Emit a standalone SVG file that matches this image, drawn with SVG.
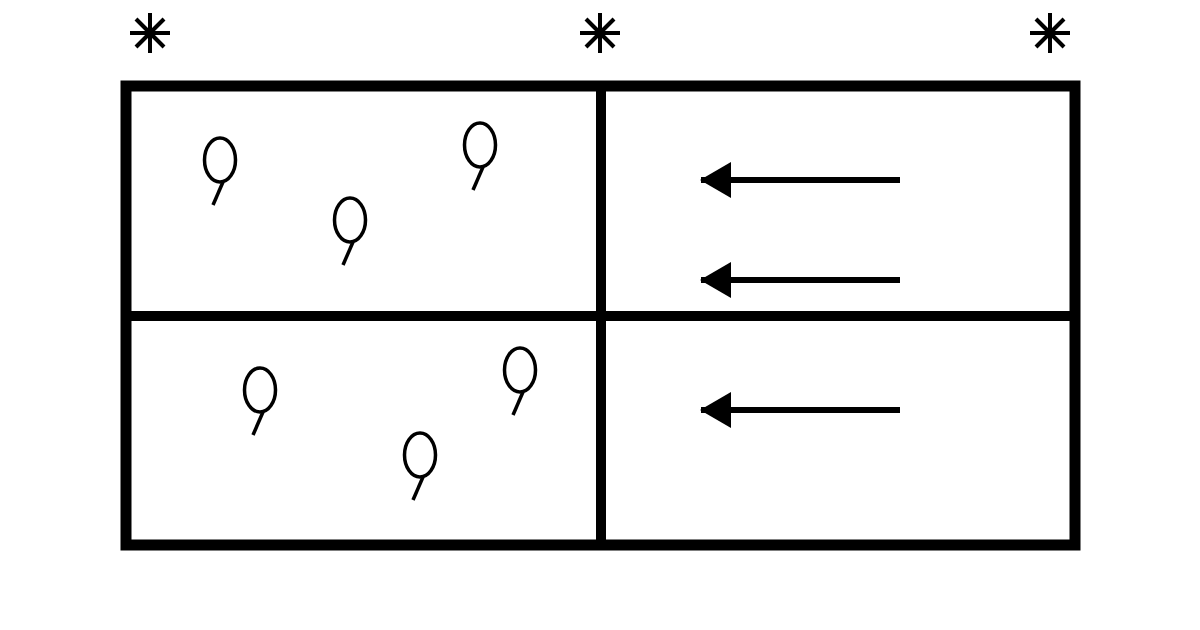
<svg xmlns="http://www.w3.org/2000/svg" width="1200" height="630" viewBox="0 0 1200 630">
<style>
.frame{fill:none;stroke:#000;stroke-width:11}
.div{stroke:#000;stroke-width:10}
.arrow{stroke:#000;stroke-width:6;fill:none}
</style>
<defs>
<g id="star" stroke="#000" stroke-width="4" fill="none">
<line x1="-20" y1="0" x2="20" y2="0"/>
<line x1="0" y1="-20" x2="0" y2="20"/>
<line x1="-14" y1="-14" x2="14" y2="14"/>
<line x1="-14" y1="14" x2="14" y2="-14"/>
</g>
<g id="balloon" stroke="#000" stroke-width="3.5" fill="none">
<ellipse cx="0" cy="0" rx="15.5" ry="22"/>
<line x1="3" y1="22" x2="-7" y2="45"/>
</g>
<marker id="ah" markerUnits="userSpaceOnUse" markerWidth="32" markerHeight="36" refX="30" refY="18" orient="auto">
<path d="M0,0 L31,18 L0,36 Z" fill="#000"/>
</marker>
</defs>
<rect width="1200" height="630" fill="#fff"/>
<g id="stars">
<use href="#star" x="150" y="33"/>
<use href="#star" x="600" y="33"/>
<use href="#star" x="1050" y="33"/>
</g>
<g id="frame">
<rect class="frame" x="126" y="86" width="949" height="459"/>
<line class="div" x1="126" y1="316" x2="1075" y2="316"/>
<line class="div" x1="601" y1="86" x2="601" y2="545"/>
</g>
<g id="balloons">
<use href="#balloon" x="220" y="160"/>
<use href="#balloon" x="480" y="145"/>
<use href="#balloon" x="350" y="220"/>
<use href="#balloon" x="260" y="390"/>
<use href="#balloon" x="520" y="370"/>
<use href="#balloon" x="420" y="455"/>
</g>
<g id="connectors">
<line class="arrow" x1="900" y1="180" x2="701" y2="180" marker-end="url(#ah)"/>
<line class="arrow" x1="900" y1="280" x2="701" y2="280" marker-end="url(#ah)"/>
<line class="arrow" x1="900" y1="410" x2="701" y2="410" marker-end="url(#ah)"/>
</g>
</svg>
